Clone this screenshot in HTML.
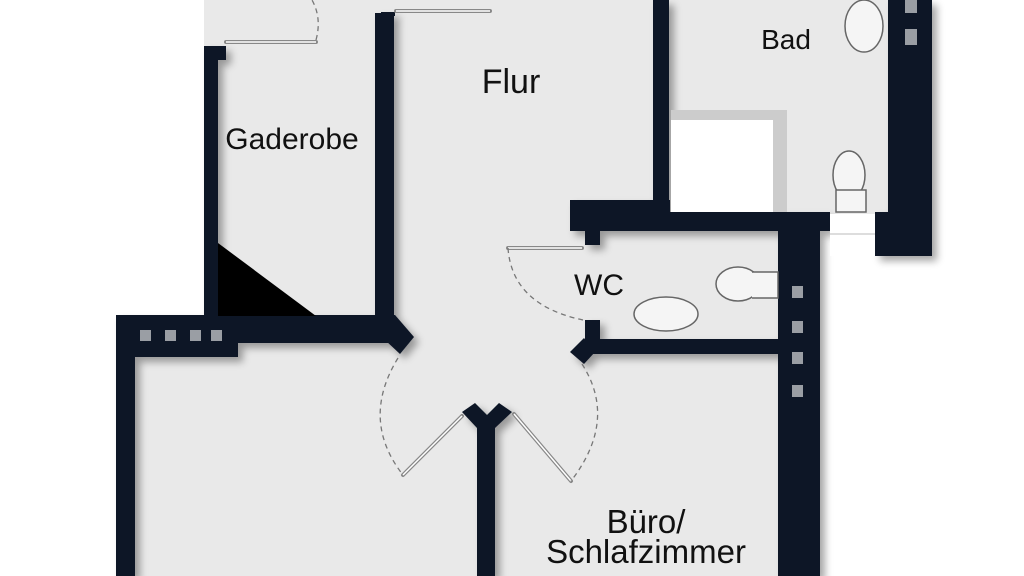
<!DOCTYPE html>
<html><head><meta charset="utf-8"><style>
html,body{margin:0;padding:0;background:#fff;}
svg{display:block;}
text{font-family:"Liberation Sans",Arial,sans-serif;fill:#111;}
</style></head><body>
<svg width="1024" height="576" viewBox="0 0 1024 576" xmlns="http://www.w3.org/2000/svg">
<defs>
<filter id="sh" x="-10%" y="-10%" width="130%" height="130%">
<feGaussianBlur in="SourceAlpha" stdDeviation="4"/><feOffset dx="5" dy="5"/>
<feComponentTransfer><feFuncA type="linear" slope="0.35"/></feComponentTransfer>
<feMerge><feMergeNode/><feMergeNode in="SourceGraphic"/></feMerge></filter>
</defs>
<!-- floors -->
<g fill="#e9e9e9">
<rect x="204" y="0" width="456" height="46"/>
<rect x="218" y="46" width="160" height="270"/>
<rect x="392" y="0" width="264" height="420"/>
<rect x="668" y="0" width="222" height="214"/>
<rect x="598" y="231" width="182" height="110"/>
<rect x="130" y="340" width="650" height="236"/>
</g>
<!-- walls -->
<g fill="#0d1526" filter="url(#sh)">
<rect x="204" y="47" width="14" height="270"/>
<rect x="204" y="46" width="22" height="14"/>
<rect x="375" y="13" width="19" height="320"/>
<rect x="381" y="12" width="14" height="4"/>
<rect x="116" y="315" width="279" height="28"/>
<rect x="116" y="315" width="122" height="42"/>
<rect x="116" y="315" width="19" height="261"/>
<polygon points="385,315 395,315 414,337 400,354 385,340"/>
<rect x="653" y="0" width="16" height="214"/>
<rect x="570" y="200" width="100" height="31"/>
<rect x="668" y="212" width="162" height="19"/>
<rect x="585" y="228" width="15" height="17"/>
<rect x="888" y="0" width="44" height="256"/>
<rect x="875" y="212" width="15" height="44"/>
<rect x="778" y="214" width="42" height="362"/>
<rect x="585" y="320" width="15" height="25"/>
<rect x="585" y="339" width="200" height="15"/>
<polygon points="570,352 584,338 595,352 584,364"/>
<polygon points="462,412 475,403 487,415 499,403 512,412 495,428 495,576 477,576 477,428"/>
</g>
<polygon points="218,243 218,316 316,316" fill="#000"/>
<!-- window squares -->
<g fill="#9a9ea4">
<rect x="140" y="330" width="11" height="11"/><rect x="165" y="330" width="11" height="11"/>
<rect x="190" y="330" width="11" height="11"/><rect x="211" y="330" width="11" height="11"/>
<rect x="905" y="0" width="12" height="13"/><rect x="905" y="29" width="12" height="16"/>
<rect x="792" y="286" width="11" height="12"/><rect x="792" y="321" width="11" height="12"/>
<rect x="792" y="352" width="11" height="12"/><rect x="792" y="385" width="11" height="12"/>
</g>
<!-- steps -->
<rect x="830" y="214" width="45" height="42" fill="#fff"/>
<line x1="830" y1="234" x2="875" y2="234" stroke="#bbb"/>
<!-- bathtub -->
<rect x="671" y="110" width="116" height="102" fill="#ccc"/>
<rect x="671" y="120" width="102" height="92" fill="#fff"/>
<!-- fixtures -->
<g fill="#f5f5f5" stroke="#666" stroke-width="1.5">
<ellipse cx="864" cy="26" rx="19" ry="26"/>
<ellipse cx="849" cy="175" rx="16" ry="24"/>
<rect x="836" y="190" width="30" height="22"/>
<ellipse cx="666" cy="314" rx="32" ry="17"/>
<ellipse cx="738" cy="284" rx="22" ry="17"/>
<path d="M752 272 L778 272 L778 298 L752 298"/>
</g>
<!-- doors -->
<g stroke="#888" stroke-width="4" stroke-linecap="round">
<line x1="226" y1="42" x2="316" y2="42"/>
<line x1="396" y1="11" x2="490" y2="11"/>
<line x1="508" y1="248" x2="582" y2="248"/>
<line x1="462" y1="416" x2="403" y2="475"/>
<line x1="514" y1="414" x2="571" y2="481"/>
</g>
<g stroke="#fff" stroke-width="1.5">
<line x1="226" y1="42" x2="316" y2="42"/>
<line x1="396" y1="11" x2="490" y2="11"/>
<line x1="508" y1="248" x2="582" y2="248"/>
<line x1="462" y1="416" x2="403" y2="475"/>
<line x1="514" y1="414" x2="571" y2="481"/>
</g>
<g fill="none" stroke="#777" stroke-width="1.3" stroke-dasharray="5,4">
<path d="M316 40 Q322 18 312 0"/>
<path d="M508 248 Q512 305 583 320"/>
<path d="M398 358 Q360 420 403 475"/>
<path d="M582 364 Q618 420 571 481"/>
</g>
<!-- labels -->
<text x="511" y="93" font-size="34" text-anchor="middle">Flur</text>
<text x="292" y="149" font-size="30" text-anchor="middle">Gaderobe</text>
<text x="786" y="49" font-size="28" text-anchor="middle">Bad</text>
<text x="599" y="295" font-size="30" text-anchor="middle">WC</text>
<text x="646" y="533" font-size="33" text-anchor="middle">Büro/</text>
<text x="646" y="563" font-size="33" text-anchor="middle">Schlafzimmer</text>
</svg>
</body></html>
